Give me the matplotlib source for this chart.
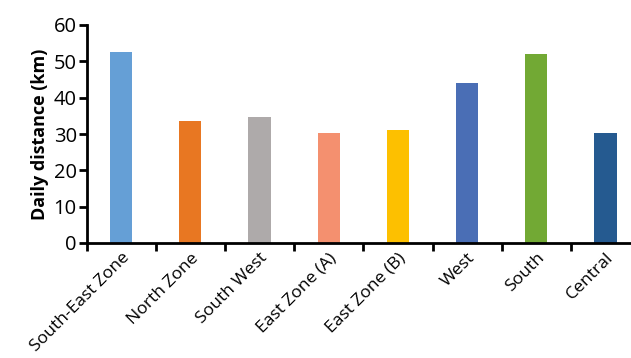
import numpy as np
import matplotlib
matplotlib.use("Agg")
import matplotlib.pyplot as plt

zones = ["South-East Zone", "North Zone", "South West", "East Zone (A)",
         "East Zone (B)", "West", "South", "Central"]
distance = [52.7, 33.5, 34.8, 30.2, 31.0, 43.9, 51.9, 30.2]
colors = ["#659FD6", "#E87722", "#AEAAAA", "#F4906F",
          "#FDC000", "#4A6EB5", "#72A934", "#255A90"]

plt.rcParams["font.family"] = ["Open Sans", "DejaVu Sans"]

fig = plt.figure(figsize=(6.31, 3.58), dpi=100)
# axes run past the right edge of the picture, like the original
ax = fig.add_axes([86.5 / 631, 115 / 358, 553.6 / 631, 218 / 358])

x = np.arange(len(zones))
ax.bar(x, distance, width=0.32, color=colors)

ax.set_xlim(-0.5, len(zones) - 0.5)
ax.set_ylim(0, 60)
ax.set_yticks(range(0, 61, 10))

# tick marks between the categories, labels under the bars
ax.set_xticks(np.arange(-0.5, len(zones), 1.0))
ax.set_xticklabels([])
ax.set_xticks(x, minor=True)
ax.set_xticklabels(zones, minor=True, rotation=45, ha="right",
                   rotation_mode="anchor", fontsize=12.6)
ax.tick_params(axis="x", which="minor", length=0, pad=5)
ax.tick_params(axis="x", which="major", length=6, width=2, direction="out")
ax.tick_params(axis="y", length=6, width=2, labelsize=14.5, pad=1)

ax.set_ylabel("Daily distance (km)", fontsize=13, fontweight="bold", labelpad=3)

for s in ["top", "right"]:
    ax.spines[s].set_visible(False)
for s in ["left", "bottom"]:
    ax.spines[s].set_linewidth(2)

fig.savefig("out.png", dpi=100)
